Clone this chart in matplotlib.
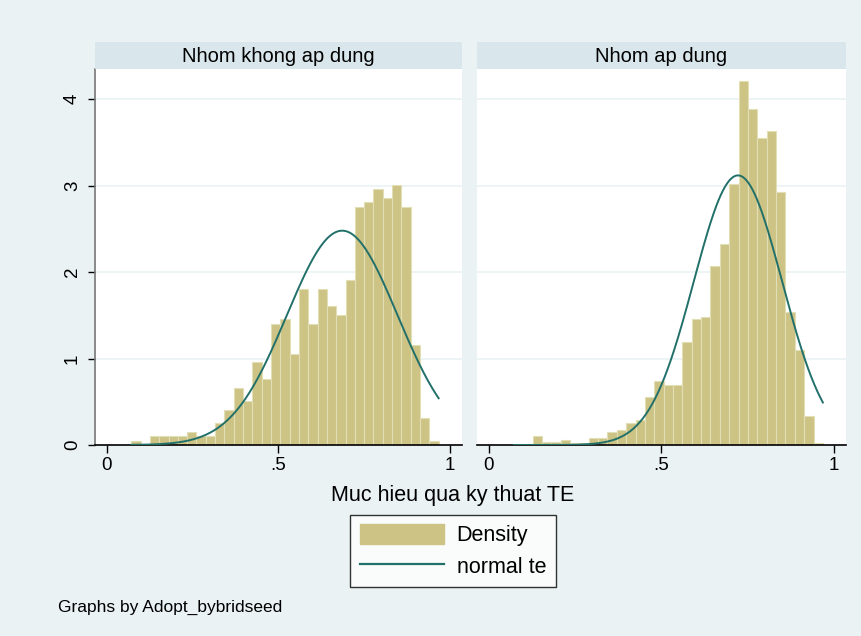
import numpy as np
import matplotlib.pyplot as plt
from matplotlib.patches import Patch
from matplotlib.lines import Line2D

plt.rcParams['font.family'] = ['Liberation Sans', 'DejaVu Sans']

# --- Data ---
groups = ['Nhom khong ap dung', 'Nhom ap dung']

# histogram range of te in each group (33 bins each)
x_min = [0.0716, 0.0727]
x_max = [0.967, 0.968]

dens_khong = [0.050, 0.0, 0.104, 0.104, 0.104, 0.104, 0.154, 0.104, 0.104,
              0.250, 0.405, 0.655, 0.509, 0.956, 0.759, 1.403, 1.453, 1.056,
              1.803, 1.403, 1.803, 1.603, 1.503, 1.904, 2.755, 2.805, 2.956,
              2.855, 3.006, 2.755, 1.156, 0.308, 0.050]
dens_ap = [0.0, 0.0, 0.104, 0.039, 0.039, 0.062, 0.027, 0.027, 0.081,
           0.081, 0.150, 0.173, 0.258, 0.289, 0.551, 0.740, 0.694, 0.694,
           1.187, 1.453, 1.476, 2.073, 2.324, 3.014, 4.212, 3.880, 3.545,
           3.634, 2.925, 1.541, 1.094, 0.335, 0.027]
densities = [dens_khong, dens_ap]

# normal fit parameters (mean, sd) of te per group
norm_mean = [0.686, 0.722]
norm_sd = [0.161, 0.128]

xticks = [0, 0.5, 1]
xtick_labels = ['0', '.5', '1']
yticks = [0, 1, 2, 3, 4]

# --- Style ---
BG = '#EAF2F3'
STRIP = '#D9E6EB'
BAR = '#CCC385'
BAR_EDGE = '#E2DEB6'
LINE = '#22706A'

W, H = 862, 636
fig = plt.figure(figsize=(W / 100, H / 100), dpi=100, facecolor=BG)


def fx(px):
    return px / W


def fy(py):
    return 1 - py / H


panels = [(95, 462), (477, 846)]
top, bottom, strip_top = 69, 445, 42

for i, (x0, x1) in enumerate(panels):
    ax = fig.add_axes([fx(x0), fy(bottom), fx(x1 - x0), (bottom - top) / H])
    ax.set_facecolor('white')

    nb = len(densities[i])
    bw = (x_max[i] - x_min[i]) / nb
    lefts = x_min[i] + bw * np.arange(nb)
    ax.bar(lefts, densities[i], width=bw, align='edge', color=BAR,
           edgecolor=BAR_EDGE, linewidth=0.8, zorder=2)

    xs = np.linspace(x_min[i], x_max[i], 300)
    pdf = np.exp(-0.5 * ((xs - norm_mean[i]) / norm_sd[i]) ** 2) / (
        norm_sd[i] * np.sqrt(2 * np.pi))
    ax.plot(xs, pdf, color=LINE, lw=1.4, zorder=3)

    ax.set_xlim(-0.034, 1.035)
    ax.set_ylim(0, 4.347)
    for g in yticks[1:]:
        ax.axhline(g, color=BG, lw=1.2, zorder=1)

    ax.set_xticks(xticks)
    ax.set_xticklabels(xtick_labels, fontsize=13.5)
    ax.tick_params(axis='x', direction='out', length=5.5, width=1, pad=3)
    for s in ['top', 'right']:
        ax.spines[s].set_visible(False)
    ax.spines['bottom'].set_color('black')
    ax.spines['bottom'].set_linewidth(1.2)
    if i == 0:
        ax.set_yticks(yticks)
        ax.set_yticklabels([str(t) for t in yticks], rotation=90,
                           va='center', fontsize=13.5)
        ax.tick_params(axis='y', direction='out', length=5, width=1, pad=5)
        ax.spines['left'].set_color('#777777')
        ax.spines['left'].set_linewidth(1.2)
    else:
        ax.set_yticks([])
        ax.spines['left'].set_visible(False)

    # panel strip
    sax = fig.add_axes([fx(x0), fy(top), fx(x1 - x0), (top - strip_top) / H])
    sax.set_facecolor(STRIP)
    sax.set_xticks([])
    sax.set_yticks([])
    for s in sax.spines.values():
        s.set_visible(False)
    sax.text(0.5, 0.45, groups[i], ha='center', va='center', fontsize=14.5,
             transform=sax.transAxes)

fig.text(fx(453), fy(496), 'Muc hieu qua ky thuat TE', ha='center',
         va='center', fontsize=15.5)

handles = [Patch(facecolor=BAR, edgecolor=BAR),
           Line2D([0], [0], color=LINE, lw=1.6)]
leg = fig.legend(handles, ['Density', 'normal te'], loc='center',
                 bbox_to_anchor=(fx(453), fy(551)), fontsize=15.5,
                 frameon=True, fancybox=False, edgecolor='black',
                 handlelength=3.9, handleheight=1.0, borderpad=0.45,
                 labelspacing=0.42, handletextpad=0.6)
leg.get_frame().set_linewidth(1.0)

fig.text(fx(58), fy(607), 'Graphs by Adopt_bybridseed', ha='left',
         va='center', fontsize=12.5)

fig.savefig('out.png', dpi=100, facecolor=BG)
